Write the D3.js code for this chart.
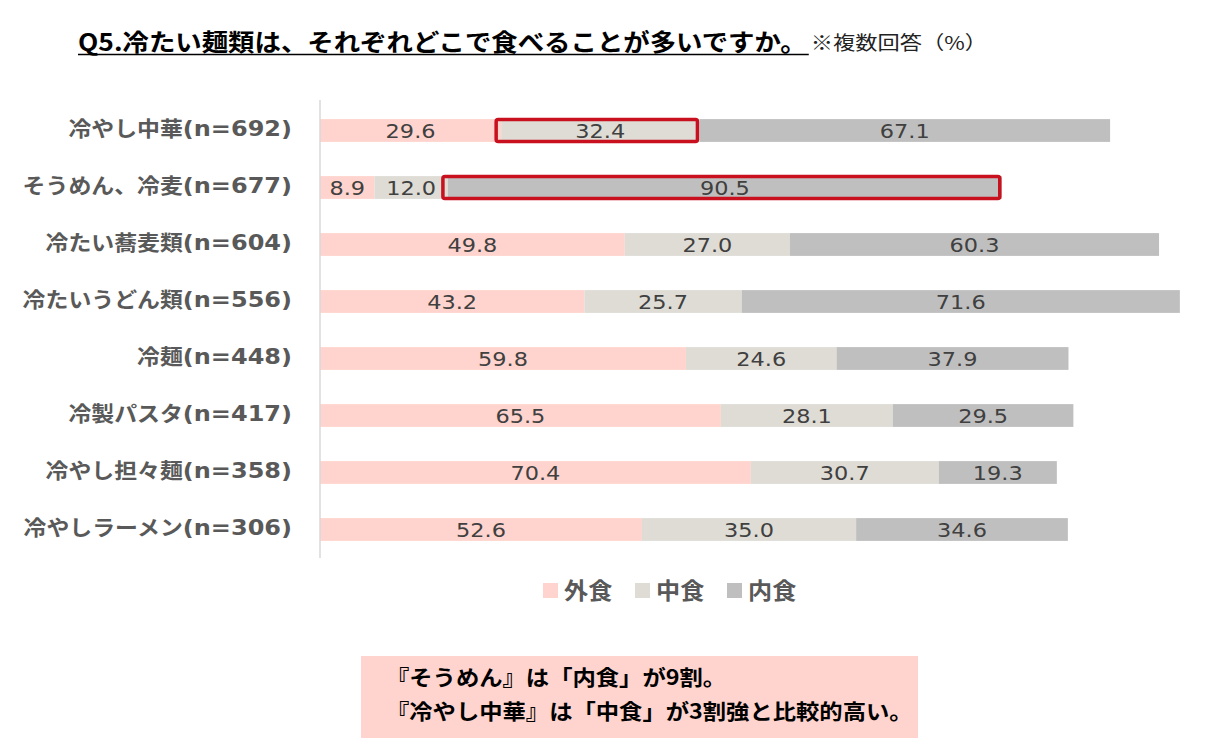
<!DOCTYPE html>
<html>
<head>
<meta charset="utf-8">
<script src="https://cdn.jsdelivr.net/npm/d3@7"></script>
<style>
  html, body { margin: 0; padding: 0; background: #fff; }
</style>
</head>
<body>
<div id="chart"></div>
<script>
// values
const categories = ["冷やし中華", "そうめん、冷麦", "冷たい蕎麦類", "冷たいうどん類", "冷麺", "冷製パスタ", "冷やし担々麺", "冷やしラーメン"];
const sampleSizes = [692, 677, 604, 556, 448, 417, 358, 306];
const seriesNames = ["外食", "中食", "内食"];
const eatOut = [29.6, 8.9, 49.8, 43.2, 59.8, 65.5, 70.4, 52.6];
const takeOut = [32.4, 12.0, 27.0, 25.7, 24.6, 28.1, 30.7, 35.0];
const eatHome = [67.1, 90.5, 60.3, 71.6, 37.9, 29.5, 19.3, 34.6];
const highlights = [
    { category: "冷やし中華", series: "中食" },
    { category: "そうめん、冷麦", series: "内食" },
];
const titleText = "Q5.冷たい麺類は、それぞれどこで食べることが多いですか。";
const noteText = "※複数回答（%）";
const commentLines = ["『そうめん』は「内食」が9割。", "『冷やし中華』は「中食」が3割強と比較的高い。"];

const width = 1207;
const height = 753;
const colors = { "外食": "#ffd4ce", "中食": "#dedcd5", "内食": "#bfbfbf" };
const cjk = "'Noto Sans CJK JP', 'Noto Sans CJK SC', sans-serif";
const latin = "'DejaVu Sans', 'Noto Sans CJK JP', sans-serif";

const svg = d3
    .select("#chart")
    .append("svg")
    .attr("width", width)
    .attr("height", height)
    .attr("viewBox", [0, 0, width, height]);

// the original text is drawn a bit wider than the fonts we have, so stretch it
function stretch(sel, k) {
    sel.each(function () {
        let w = this.getComputedTextLength();
        d3.select(this).attr("textLength", w * k).attr("lengthAdjust", "spacingAndGlyphs");
    });
}

let rows = categories.map((c, i) => ({
    category: c,
    n: sampleSizes[i],
    "外食": eatOut[i],
    "中食": takeOut[i],
    "内食": eatHome[i],
}));

let stacked = d3.stack().keys(seriesNames)(rows);

const x = d3.scaleLinear().domain([0, 140]).range([320, 320 + 140 * 6.12]);

const y = d3
    .scaleBand()
    .domain(categories)
    .range([102, 558])
    .paddingInner(0.6)
    .paddingOuter(0.3);

//============================ TITLE ============================//
let title = svg
    .append("text")
    .attr("x", 78)
    .attr("y", 51)
    .attr("font-family", cjk)
    .attr("font-weight", 700)
    .attr("font-size", 24)
    .attr("fill", "#000")
    .text(titleText);
stretch(title, 1.1);

let titleEnd = 78 + +title.attr("textLength");

svg.append("line")
    .attr("x1", 78)
    .attr("x2", titleEnd + 2)
    .attr("y1", 54.5)
    .attr("y2", 54.5)
    .attr("stroke", "#000")
    .attr("stroke-width", 1.5);

let note = svg
    .append("text")
    .attr("x", titleEnd + 4)
    .attr("y", 50)
    .attr("font-family", cjk)
    .attr("font-size", 19)
    .attr("fill", "#222")
    .text(noteText);
stretch(note, 1.17);

//============================ BARS ============================//
let layers = svg
    .selectAll(".layer")
    .data(stacked)
    .join("g")
    .attr("class", "layer")
    .attr("fill", (d) => colors[d.key]);

layers
    .selectAll("rect")
    .data((d) => d)
    .join("rect")
    .attr("x", (d) => x(d[0]))
    .attr("y", (d) => y(d.data.category))
    .attr("width", (d) => x(d[1]) - x(d[0]))
    .attr("height", y.bandwidth());

let valueLabels = layers
    .selectAll("text")
    .data((d) => d.map((v) => ({ v: v, key: d.key })))
    .join("text")
    .attr("x", (d) => (x(d.v[0]) + x(d.v[1])) / 2)
    .attr("y", (d) => y(d.v.data.category) + y.bandwidth() / 2 + 7.5)
    .attr("text-anchor", "middle")
    .attr("font-family", latin)
    .attr("font-size", 20)
    .attr("fill", "#404040")
    .text((d) => d.v.data[d.key].toFixed(1));
stretch(valueLabels, 1.12);

// red frames round the highlighted segments
for (let h of highlights) {
    let layer = stacked.find((s) => s.key === h.series);
    let seg = layer.find((d) => d.data.category === h.category);
    svg.append("rect")
        .attr("x", x(seg[0]) - 5)
        .attr("y", y(h.category) + 0.5)
        .attr("width", x(seg[1]) - x(seg[0]) + 3)
        .attr("height", y.bandwidth() - 1)
        .attr("rx", 2)
        .attr("fill", "none")
        .attr("stroke", "#c8101e")
        .attr("stroke-width", 3.5);
}

// axis line
svg.append("line")
    .attr("x1", x(0))
    .attr("x2", x(0))
    .attr("y1", 100)
    .attr("y2", 558)
    .attr("stroke", "#d9d9d9")
    .attr("stroke-width", 1.5);

//============================ CATEGORY LABELS ============================//
let catLabels = svg
    .selectAll(".cat-label")
    .data(rows)
    .join("text")
    .attr("class", "cat-label")
    .attr("x", 292)
    .attr("y", (d) => y(d.category) + y.bandwidth() / 2 + 5)
    .attr("text-anchor", "end")
    .attr("font-weight", 700)
    .attr("fill", "#595959");

catLabels
    .append("tspan")
    .attr("font-family", cjk)
    .attr("font-size", 21)
    .text((d) => d.category);

catLabels
    .append("tspan")
    .attr("font-family", latin)
    .attr("font-size", 22)
    .text((d) => `(n=${d.n})`);

stretch(catLabels, 1.09);

//============================ LEGEND ============================//
let legend = svg
    .selectAll(".legend-item")
    .data(seriesNames)
    .join("g")
    .attr("class", "legend-item")
    .attr("transform", (d, i) => `translate(${543 + i * 92}, 583)`);

legend
    .append("rect")
    .attr("width", 15)
    .attr("height", 15)
    .attr("fill", (d) => colors[d]);

let legendText = legend
    .append("text")
    .attr("x", 21)
    .attr("y", 16)
    .attr("font-family", cjk)
    .attr("font-weight", 700)
    .attr("font-size", 23)
    .attr("fill", "#595959")
    .text((d) => d);
stretch(legendText, 1.05);

//============================ COMMENT BOX ============================//
svg.append("rect")
    .attr("x", 361)
    .attr("y", 656)
    .attr("width", 557)
    .attr("height", 82)
    .attr("fill", "#ffd4ce");

let comments = svg
    .selectAll(".comment")
    .data(commentLines)
    .join("text")
    .attr("class", "comment")
    .attr("x", 386)
    .attr("y", (d, i) => 685 + i * 34)
    .attr("font-family", cjk)
    .attr("font-weight", 700)
    .attr("font-size", 21)
    .attr("fill", "#000")
    .text((d) => d);
stretch(comments, 1.11);
</script>
</body>
</html>
